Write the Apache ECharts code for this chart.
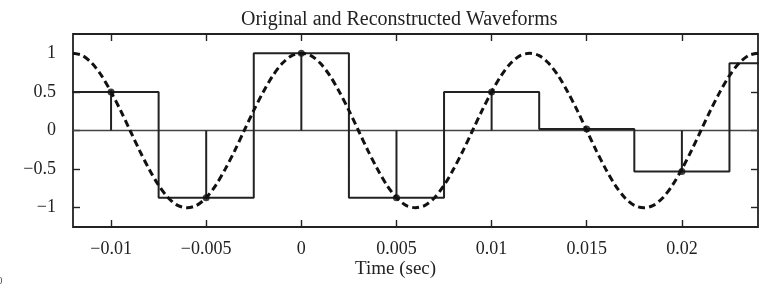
<!DOCTYPE html>
<html>
<head>
<meta charset="utf-8">
<script src="https://cdn.jsdelivr.net/npm/echarts@6.0.0/dist/echarts.min.js"></script>
<style>
  html, body { margin: 0; padding: 0; background: #fff; }
</style>
</head>
<body>
<div id="main" style="width: 759px;height:285px;"></div>
<script type="text/javascript">
    // 原始波形 (dashed), 每 0.0005 s 读一个点
    var curveStart = -0.012;
    var curveStep = 0.0005;
    var curveValues = [
        1, 0.97, 0.87, 0.71, 0.5, 0.26, 0, -0.26, -0.5, -0.71, -0.87, -0.97,
        -1, -0.97, -0.87, -0.71, -0.5, -0.26, 0, 0.26, 0.5, 0.71, 0.87, 0.97,
        1, 0.97, 0.87, 0.71, 0.5, 0.26, 0, -0.26, -0.5, -0.71, -0.87, -0.97,
        -1, -0.97, -0.87, -0.71, -0.5, -0.26, 0, 0.26, 0.5, 0.71, 0.87, 0.97,
        1, 0.97, 0.87, 0.71, 0.5, 0.26, 0, -0.26, -0.5, -0.71, -0.87, -0.97,
        -1, -0.97, -0.87, -0.71, -0.5, -0.26, 0, 0.26, 0.5, 0.71, 0.87, 0.97,
        1
    ];
    // 采样点
    var sampleTimes = [-0.01, -0.005, 0, 0.005, 0.01, 0.015, 0.02, 0.025];
    var sampleValues = [0.5, -0.87, 1, -0.87, 0.5, 0.02, -0.53, 0.87];
    var holdWidth = 0.005;
    var xTicks = [-0.01, -0.005, 0, 0.005, 0.01, 0.015, 0.02];
    var yTicks = [-1, -0.5, 0, 0.5, 1];

    var curveData = curveValues.map(function (v, i) {
        return [curveStart + i * curveStep, v];
    });
    var stairData = [];
    var stemData = [];
    var dotData = [];
    sampleTimes.forEach(function (t, i) {
        stairData.push([t - holdWidth / 2, sampleValues[i]]);
        stairData.push([t + holdWidth / 2, sampleValues[i]]);
        if (t <= 0.024) {
            stemData.push([t, sampleValues[i]]);
            dotData.push([t, sampleValues[i]]);
        }
    });

    var font = 'Liberation Serif';
    function minus(v) { return String(v).replace('-', '\u2212'); }

    var myChart = echarts.init(document.getElementById('main'));
    var tickStyle = { show: true, inside: true, length: 7, lineStyle: { color: '#222', width: 1.4 } };
    var noLine = { show: false, onZero: false };
    var option = {
        animation: false,
        title: {
            text: 'Original and Reconstructed Waveforms',
            left: 236, top: 5,
            textStyle: { fontFamily: font, fontSize: 20, fontWeight: 'normal', color: '#222' }
        },
        graphic: [
            { type: 'text', left: 355, top: 260, style: { text: 'Time (sec)', font: '19px "Liberation Serif"', fill: '#222' } },
            { type: 'text', left: -3, top: 276, style: { text: '0', font: '11px "Liberation Serif"', fill: '#555' } }
        ],
        grid: { left: 73, right: 1, top: 34, bottom: 58, show: true, borderColor: '#222', borderWidth: 1.8 },
        xAxis: [{
            type: 'value', min: -0.012, max: 0.024,
            axisLine: noLine,
            splitLine: { show: false },
            axisTick: Object.assign({ customValues: xTicks }, tickStyle),
            axisLabel: { customValues: xTicks, formatter: minus, fontFamily: font, fontSize: 18, color: '#222', margin: 13 }
        }, {
            type: 'value', min: -0.012, max: 0.024, position: 'top',
            axisLine: noLine, splitLine: { show: false },
            axisTick: Object.assign({ customValues: xTicks }, tickStyle),
            axisLabel: { show: false }
        }],
        yAxis: [{
            type: 'value', min: -1.25, max: 1.25,
            axisLine: noLine,
            splitLine: { show: false },
            axisTick: Object.assign({ customValues: yTicks }, tickStyle),
            axisLabel: { customValues: yTicks, formatter: minus, fontFamily: font, fontSize: 18, color: '#222', margin: 17 }
        }, {
            type: 'value', min: -1.25, max: 1.25, position: 'right',
            axisLine: noLine, splitLine: { show: false },
            axisTick: Object.assign({ customValues: yTicks }, tickStyle),
            axisLabel: { show: false }
        }],
        series: [{
            type: 'line',
            data: [[-0.012, 0], [0.024, 0]],
            symbol: 'none',
            lineStyle: { color: '#444', width: 1.4 },
            z: 1
        }, {
            type: 'bar',
            data: stemData,
            barWidth: 2,
            itemStyle: { color: '#222' },
            z: 2
        }, {
            type: 'line',
            data: stairData,
            symbol: 'none',
            lineStyle: { color: '#222', width: 2 },
            z: 3
        }, {
            type: 'line',
            data: curveData,
            symbol: 'none',
            smooth: 0.3,
            lineStyle: { color: '#111', width: 3, type: [7, 4] },
            z: 4
        }, {
            type: 'scatter',
            data: dotData,
            symbolSize: 7,
            itemStyle: { color: '#111' },
            z: 5
        }]
    };
    myChart.setOption(option);
</script>
</body>
</html>
